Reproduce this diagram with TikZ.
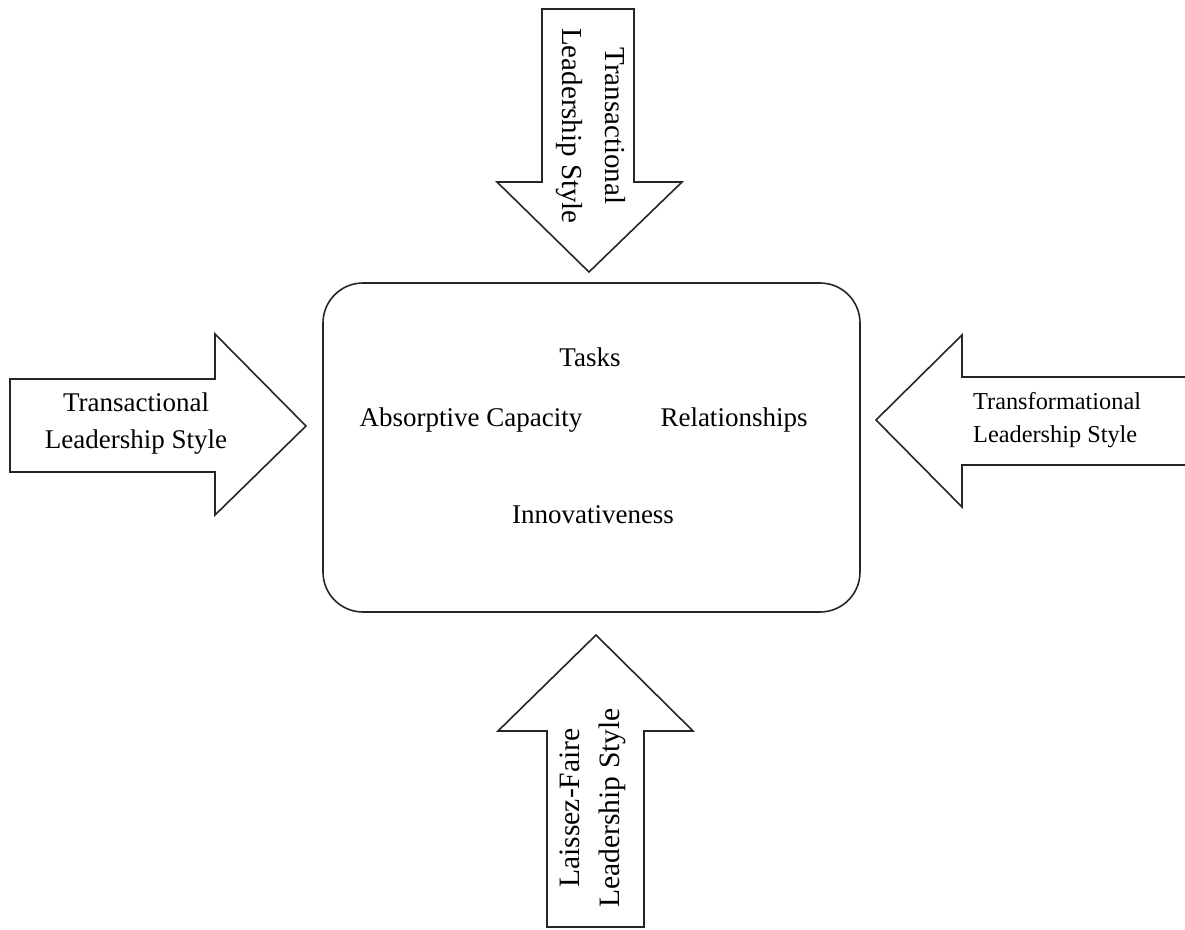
\documentclass[tikz,border=0pt]{standalone}
\usepackage{fontspec}
\setmainfont{Liberation Serif}

\begin{document}
\begin{tikzpicture}[scale=0.35146]
\tikzstyle{every node}+=[inner sep=0pt]
\tikzstyle{outline}=[black!85, line width=1.6pt, line join=miter]
\tikzstyle{arrowtext}=[align=center, font=\fontsize{27}{37}\selectfont]
\tikzstyle{boxtext}=[font=\fontsize{27}{32}\selectfont]
\useasboundingbox (0,0) rectangle (118.5,-92.9);
\draw [outline] (54.2,-0.9) -- (63.4,-0.9) -- (63.4,-18.2) -- (68.2,-18.2) -- (58.9,-27.2) -- (49.7,-18.2) -- (54.2,-18.2) -- cycle;
\draw (59.1,-12.6) node [arrowtext, rotate=-90, font=\fontsize{29}{43}\selectfont] (topstyle) {Transactional\\Leadership Style};
\draw [outline] (1.0,-37.9) -- (21.5,-37.9) -- (21.5,-33.4) -- (30.6,-42.6) -- (21.5,-51.5) -- (21.5,-47.2) -- (1.0,-47.2) -- cycle;
\draw (13.6,-42.4) node [arrowtext] (leftstyle) {Transactional\\Leadership Style};
\draw [outline] (118.6,-37.7) -- (96.2,-37.7) -- (96.2,-33.5) -- (87.6,-42.0) -- (96.2,-50.7) -- (96.2,-46.5) -- (118.6,-46.5);
\draw (97.3,-42.0) node [arrowtext, anchor=west, align=left, font=\fontsize{24.3}{33}\selectfont] (rightstyle) {Transformational\\Leadership Style};
\draw [outline] (54.7,-92.7) -- (54.7,-73.1) -- (49.8,-73.1) -- (59.6,-63.5) -- (69.3,-73.1) -- (64.4,-73.1) -- (64.4,-92.7) -- cycle;
\draw (59.3,-80.8) node [arrowtext, rotate=90, font=\fontsize{29.6}{40}\selectfont] (bottomstyle) {Laissez-Faire\\Leadership Style};
\draw [outline, rounded corners=40pt] (32.3,-28.3) rectangle (86.0,-61.2);
\draw (59.0,-35.7) node [boxtext] (tasks) {Tasks};
\draw (47.1,-42.0) node [boxtext] (absorptive) {Absorptive Capacity};
\draw (73.4,-42.0) node [boxtext] (relationships) {Relationships};
\draw (59.3,-51.5) node [boxtext] (innovativeness) {Innovativeness};
\end{tikzpicture}
\end{document}
